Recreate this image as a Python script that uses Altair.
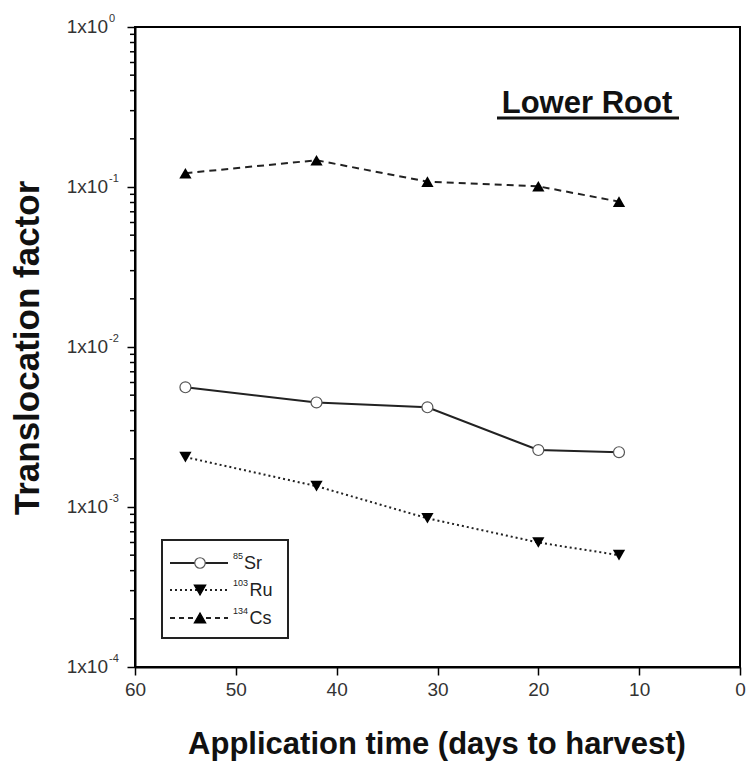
import altair as alt
import pandas as pd

# ---- data ----
days = [55, 42, 31, 20, 12]
sr85 = [0.0056, 0.0045, 0.0042, 0.00227, 0.0022]
ru103 = [0.00205, 0.00135, 0.00085, 0.0006, 0.0005]
cs134 = [0.122, 0.147, 0.108, 0.101, 0.081]

x_ticks = [60, 50, 40, 30, 20, 10, 0]
y_decades = [1e0, 1e-1, 1e-2, 1e-3, 1e-4]
y_exponents = ["0", "-1", "-2", "-3", "-4"]
y_minor = [k * 10.0 ** e for e in (-4, -3, -2, -1) for k in range(2, 10)]

W, H = 605, 640
FONT = "Liberation Sans"

xs = alt.Scale(domain=[0, 60], reverse=True)
ys = alt.Scale(type="log", domain=[1e-4, 1])

def series_df(vals):
    return pd.DataFrame({"days": days, "tf": vals})

X = alt.X("days:Q", scale=xs,
          axis=alt.Axis(values=x_ticks, tickSize=8, tickWidth=1.5, tickColor="black",
                        domainColor="black", domainWidth=2, labelFontSize=19,
                        labelColor="#333", labelFont=FONT, labelPadding=5,
                        grid=False, title=None, labelFlush=False))
Y = alt.Y("tf:Q", scale=ys,
          axis=alt.Axis(values=y_decades, tickSize=8, tickWidth=1.5, tickColor="black",
                        domainColor="black", domainWidth=2, labels=False,
                        grid=False, title=None))

# series lines
sr_line = alt.Chart(series_df(sr85)).mark_line(color="#222", strokeWidth=2).encode(x=X, y=Y)
sr_pts = alt.Chart(series_df(sr85)).mark_point(shape="circle", filled=True, fill="white",
                                               stroke="#555", strokeWidth=1.2, size=120,
                                               opacity=1).encode(x=X, y=Y)
ru_line = alt.Chart(series_df(ru103)).mark_line(color="#222", strokeWidth=2,
                                                strokeDash=[2, 3]).encode(x=X, y=Y)
ru_pts = alt.Chart(series_df(ru103)).mark_point(shape="triangle-down", filled=True,
                                                color="black", size=150, opacity=1).encode(x=X, y=Y)
cs_line = alt.Chart(series_df(cs134)).mark_line(color="#222", strokeWidth=2,
                                                strokeDash=[7, 5]).encode(x=X, y=Y)
cs_pts = alt.Chart(series_df(cs134)).mark_point(shape="triangle-up", filled=True,
                                                color="black", size=150, opacity=1).encode(x=X, y=Y)

# minor ticks on y axis
minor = alt.Chart(pd.DataFrame({"tf": y_minor})).mark_rule(color="black", strokeWidth=1.5).encode(
    y=alt.Y("tf:Q", scale=ys), x=alt.value(-5), x2=alt.value(0))

# y tick labels with superscript exponents
ylab_df = pd.DataFrame({"tf": y_decades, "exp": y_exponents, "base": ["1x10"] * 5})
ylab_base = alt.Chart(ylab_df).mark_text(align="right", baseline="middle", fontSize=19,
                                         font=FONT, color="#333").encode(
    y=alt.Y("tf:Q", scale=ys), x=alt.value(-27), text="base:N")
ylab_exp = alt.Chart(ylab_df).mark_text(align="left", baseline="middle", fontSize=11,
                                        font=FONT, color="#333", dy=-8).encode(
    y=alt.Y("tf:Q", scale=ys), x=alt.value(-26), text="exp:N")

# axis titles
ytitle = alt.Chart(pd.DataFrame({"t": ["Translocation factor"]})).mark_text(
    angle=270, align="center", baseline="middle", fontSize=35, fontWeight="bold",
    font=FONT, color="#111").encode(x=alt.value(-107), y=alt.value(321), text="t:N")
xtitle = alt.Chart(pd.DataFrame({"t": ["Application time (days to harvest)"]})).mark_text(
    align="center", baseline="middle", fontSize=31, fontWeight="bold",
    font=FONT, color="#111").encode(x=alt.value(302), y=alt.value(718), text="t:N")

# panel label
plabel = alt.Chart(pd.DataFrame({"t": ["Lower Root"]})).mark_text(
    align="center", baseline="alphabetic", fontSize=31, fontWeight="bold",
    font=FONT, color="#111").encode(x=alt.value(452), y=alt.value(86), text="t:N")
puline = alt.Chart(pd.DataFrame({"t": [0]})).mark_rule(color="#111", strokeWidth=3).encode(
    x=alt.value(362), x2=alt.value(544), y=alt.value(91))

# legend
leg_box = alt.Chart(pd.DataFrame({"t": [0]})).mark_rect(
    fill="white", stroke="#222", strokeWidth=2).encode(
    x=alt.value(27), x2=alt.value(153), y=alt.value(513), y2=alt.value(611))

def leg_entry(ypix, dash, shape, fill, stroke, sup, name):
    ln = alt.Chart(pd.DataFrame({"t": [0]})).mark_rule(
        color="#222", strokeWidth=2, **({"strokeDash": dash} if dash else {})).encode(
        x=alt.value(35), x2=alt.value(93), y=alt.value(ypix))
    pt = alt.Chart(pd.DataFrame({"t": [0]})).mark_point(
        shape=shape, filled=True, fill=fill, stroke=stroke, size=130 if shape != "circle" else 110,
        opacity=1, strokeWidth=1.2).encode(x=alt.value(65), y=alt.value(ypix))
    st = alt.Chart(pd.DataFrame({"t": [sup]})).mark_text(
        align="left", baseline="middle", fontSize=9, font=FONT, color="#222").encode(
        x=alt.value(98), y=alt.value(ypix - 7), text="t:N")
    nt = alt.Chart(pd.DataFrame({"t": [name]})).mark_text(
        align="left", baseline="middle", fontSize=18, font=FONT, color="#222").encode(
        x=alt.value(98 + 5.5 * len(sup)), y=alt.value(ypix + 1), text="t:N")
    return [ln, pt, st, nt]

legend_layers = [leg_box]
legend_layers += leg_entry(536, None, "circle", "white", "#555", "85", "Sr")
legend_layers += leg_entry(563, [2, 3], "triangle-down", "black", "black", "103", "Ru")
legend_layers += leg_entry(591, [5, 4], "triangle-up", "black", "black", "134", "Cs")

chart = alt.layer(
    sr_line, ru_line, cs_line, sr_pts, ru_pts, cs_pts, minor,
    ylab_base, ylab_exp, ytitle, xtitle, plabel, puline, *legend_layers
).properties(
    width=W, height=H,
    padding={"left": 135, "top": 27, "right": 12, "bottom": 94},
    autosize=alt.AutoSizeParams(type="none"),
    background="white",
).configure_view(stroke="black", strokeWidth=2)

chart.save("out.html", embed_options={"renderer": "svg", "actions": False})
